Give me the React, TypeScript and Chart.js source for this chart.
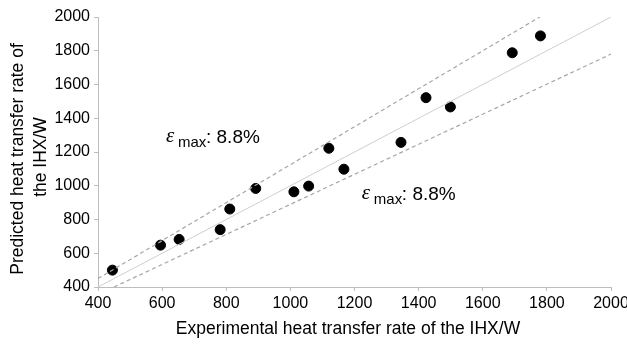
import React, { useEffect, useRef } from "react";
import { Chart, registerables } from "chart.js";

Chart.register(...registerables);

// Measured data (experimental vs predicted heat transfer rate, W)
const experimental = [445, 595, 653, 781, 811, 892, 1011, 1057, 1120, 1167, 1345, 1423, 1499, 1692, 1780];
const predicted = [500, 648, 682, 740, 862, 984, 964, 998, 1222, 1098, 1257, 1522, 1467, 1788, 1888];

// Reference lines (endpoints)
const perfectX = [400, 2000];
const perfectY = [400, 2000];
const upperX = [400, 1778];
const upperY = [450, 2000];
const lowerX = [450, 2000];
const lowerY = [400, 1780];

const xTitle = "Experimental heat transfer rate of the IHX/W";
const yTitleLines = ["Predicted heat transfer rate of", "the IHX/W"];
const annotationLabel = ": 8.8%";

const SANS = '"Liberation Sans", Arial, Helvetica, sans-serif';
const SERIF = '"Liberation Serif", "Times New Roman", serif';

const zip = (xs: number[], ys: number[]) => xs.map((x, i) => ({ x, y: ys[i] }));

const textPlugin = {
  id: "textPlugin",
  afterDraw(chart: any) {
    const ctx = chart.ctx as CanvasRenderingContext2D;
    const xs = chart.scales.x;
    const ys = chart.scales.y;
    ctx.save();
    ctx.fillStyle = "#000";

    // x-axis title
    ctx.font = `17.5px ${SANS}`;
    ctx.textAlign = "center";
    ctx.textBaseline = "middle";
    ctx.fillText(xTitle, 348, 329);

    // y-axis title (two lines, rotated)
    ctx.save();
    ctx.translate(18, 159);
    ctx.rotate(-Math.PI / 2);
    ctx.fillText(yTitleLines[0], 0, 0);
    ctx.restore();
    ctx.save();
    ctx.translate(41, 157);
    ctx.rotate(-Math.PI / 2);
    ctx.fillText(yTitleLines[1], 0, 0);
    ctx.restore();

    // annotations
    const drawAnn = (dx: number, dy: number) => {
      const px = xs.getPixelForValue(dx);
      const py = ys.getPixelForValue(dy);
      ctx.textAlign = "left";
      ctx.textBaseline = "alphabetic";
      ctx.font = `italic 21px ${SERIF}`;
      ctx.fillText("\u03B5", px, py - 1);
      ctx.font = `15px ${SANS}`;
      ctx.fillText("max", px + 12, py + 4);
      ctx.font = `19px ${SANS}`;
      ctx.fillText(annotationLabel, px + 40, py);
    };
    drawAnn(612, 1255);
    drawAnn(1223, 917);
    ctx.restore();
  },
};

export default function App() {
  const ref = useRef<HTMLCanvasElement | null>(null);
  useEffect(() => {
    document.body.style.margin = "0";
    if (!ref.current) return;
    const chart = new Chart(ref.current, {
      type: "scatter",
      data: {
        datasets: [
          {
            data: zip(perfectX, perfectY),
            showLine: true,
            borderColor: "#cfcfcf",
            borderWidth: 1,
            pointRadius: 0,
          },
          {
            data: zip(upperX, upperY),
            showLine: true,
            borderColor: "#a6a6a6",
            borderWidth: 1.2,
            borderDash: [4, 3],
            pointRadius: 0,
          },
          {
            data: zip(lowerX, lowerY),
            showLine: true,
            borderColor: "#a6a6a6",
            borderWidth: 1.2,
            borderDash: [4, 3],
            pointRadius: 0,
          },
          {
            data: zip(experimental, predicted),
            showLine: false,
            backgroundColor: "#000",
            borderColor: "#000",
            pointRadius: 5,
            pointHoverRadius: 5,
          },
        ],
      },
      options: {
        responsive: false,
        animation: false,
        layout: { padding: { top: 17, right: 16, left: 0, bottom: 0 } },
        plugins: { legend: { display: false }, tooltip: { enabled: false } },
        scales: {
          x: {
            type: "linear",
            min: 400,
            max: 2000,
            ticks: {
              stepSize: 200,
              color: "#000",
              font: { family: SANS, size: 16 },
              padding: 3,
              maxRotation: 0,
              callback: (v: any) => String(v),
            },
            grid: { drawOnChartArea: false, drawTicks: true, tickLength: 4, color: "#bdbdbd" },
            border: { color: "#bdbdbd", width: 1 },
            afterFit(scale: any) {
              scale.height = 57;
              scale.paddingRight = 0;
              scale.paddingLeft = 0;
            },
          },
          y: {
            type: "linear",
            min: 400,
            max: 2000,
            ticks: {
              stepSize: 200,
              color: "#000",
              font: { family: SANS, size: 16 },
              padding: 4,
              callback: (v: any) => String(v),
            },
            grid: { drawOnChartArea: false, drawTicks: true, tickLength: 4, color: "#bdbdbd" },
            border: { color: "#bdbdbd", width: 1 },
            afterFit(scale: any) {
              scale.width = 98;
              scale.paddingTop = 0;
              scale.paddingBottom = 0;
            },
          },
        },
      },
      plugins: [textPlugin],
    });
    return () => chart.destroy();
  }, []);
  return (
    <div style={{ width: 627, height: 344, background: "#fff" }}>
      <canvas ref={ref} width={627} height={344} style={{ display: "block" }} />
    </div>
  );
}
